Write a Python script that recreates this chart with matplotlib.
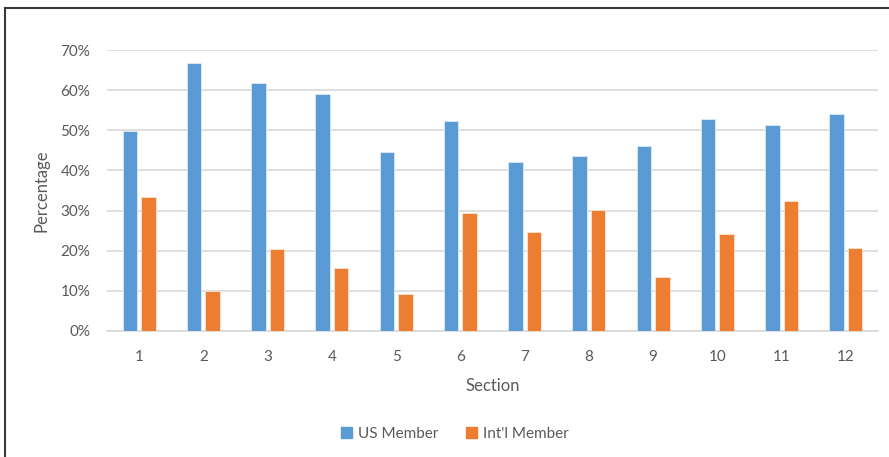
import matplotlib
matplotlib.use("Agg")
import matplotlib.pyplot as plt
from matplotlib.lines import Line2D
from matplotlib.patches import Patch
from matplotlib.ticker import PercentFormatter
import numpy as np

sections = [str(i) for i in range(1, 13)]
us_member = [49.9, 66.8, 61.7, 59.0, 44.7, 52.3, 42.1, 43.5, 46.2, 52.8, 51.2, 54.0]
intl_member = [33.3, 9.9, 20.5, 15.8, 9.1, 29.4, 24.6, 30.1, 13.4, 24.1, 32.3, 20.8]

BLUE = "#5B9BD5"
ORANGE = "#ED7D31"
GREY_TEXT = "#595959"

plt.rcParams["font.family"] = ["Lato", "DejaVu Sans"]

W, H = 889, 457
fig = plt.figure(figsize=(W / 100, H / 100), dpi=100)
fig.patch.set_facecolor("white")

# plot area in pixel terms
left, right, top, bottom = 107, 878, 50, 331
ax = fig.add_axes([left / W, 1 - bottom / H, (right - left) / W, (bottom - top) / H])

x = np.arange(len(sections))
width = 0.225
off = 0.144
ax.bar(x - off, us_member, width, color=BLUE, edgecolor="#DDEBF7", linewidth=0.6,
       label="US Member", zorder=3)
ax.bar(x + off, intl_member, width, color=ORANGE, edgecolor="#FBE5D6", linewidth=0.6,
       label="Int'l Member", zorder=3)

ax.set_xlim(-0.5, len(sections) - 0.5)
ax.set_ylim(0, 70)
ax.set_yticks(range(0, 71, 10))
ax.yaxis.set_major_formatter(PercentFormatter(decimals=0))
ax.set_xticks(x)
ax.set_xticklabels(sections)

ax.grid(axis="y", color="#D9D9D9", linewidth=1.2, zorder=0)
ax.set_axisbelow(True)
for s in ["top", "right", "left"]:
    ax.spines[s].set_visible(False)
ax.spines["bottom"].set_color("#D9D9D9")
ax.spines["bottom"].set_linewidth(1.2)
ax.tick_params(axis="both", length=0, colors=GREY_TEXT, labelsize=11)
ax.tick_params(axis="x", pad=14)
ax.tick_params(axis="y", pad=12)

ax.set_xlabel("Section", color=GREY_TEXT, fontsize=12, labelpad=10)
ax.set_ylabel("Percentage", color=GREY_TEXT, fontsize=12, labelpad=8)

handles = [Patch(color=BLUE), Patch(color=ORANGE)]
fig.legend(handles, ["US Member", "Int'l Member"], loc="center",
           bbox_to_anchor=(455 / W, 1 - 434 / H), ncol=2, frameon=False,
           fontsize=11, labelcolor=GREY_TEXT, handlelength=0.7, handleheight=0.7,
           handletextpad=0.4, columnspacing=1.8)

# outer frame: only the left and top edges are in view
fig.add_artist(Line2D([5 / W, 5 / W], [0, 1 - 8 / H], color="#3A3A3A", linewidth=1.5))
fig.add_artist(Line2D([5 / W, 1], [1 - 8 / H, 1 - 8 / H], color="#3A3A3A", linewidth=1.5))

fig.savefig("out.png", dpi=100, facecolor="white")
